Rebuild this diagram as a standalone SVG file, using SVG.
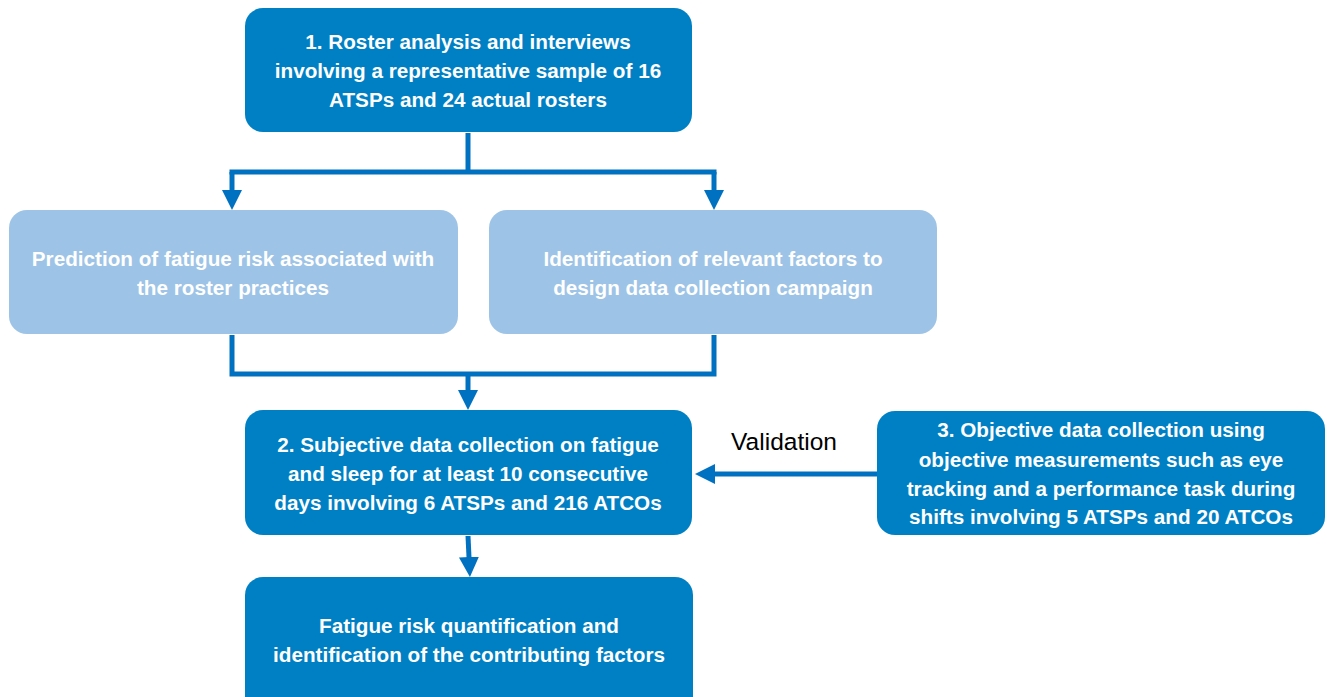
<svg xmlns="http://www.w3.org/2000/svg" width="1327" height="697" viewBox="0 0 1327 697">
<style>
.dark{fill:#0080C4}
.light{fill:#9DC3E6}
.t{font-family:"Liberation Sans",Arial,sans-serif;font-weight:bold;font-size:20.7px;fill:#FFFFFF;text-anchor:middle}
.lbl{font-family:"Liberation Sans",Arial,sans-serif;font-size:24.5px;fill:#000000;text-anchor:middle}
.c{fill:none;stroke:#0070C0;stroke-width:5}
</style>
<defs>
<marker id="ah" markerWidth="4" markerHeight="4" refX="2.2" refY="2" orient="auto" markerUnits="strokeWidth">
<path d="M0,0 L4,2 L0,4 Z" fill="#0070C0"/>
</marker>
</defs>
<rect width="1327" height="697" fill="#FFFFFF"/>
<g id="connectors">
<polyline class="c" points="468,133 468,172"/>
<polyline class="c" points="232,172 714,172" stroke-linecap="square"/>
<polyline class="c" points="232,172 232,201" marker-end="url(#ah)"/>
<polyline class="c" points="714,172 714,201" marker-end="url(#ah)"/>
<polyline class="c" points="232,335 232,374 714,374 714,335"/>
<polyline class="c" points="468,374 468,401" marker-end="url(#ah)"/>
<line class="c" x1="468" y1="536" x2="469.5" y2="568" marker-end="url(#ah)"/>
<line class="c" x1="877" y1="474" x2="704" y2="474" marker-end="url(#ah)"/>
<text class="lbl" x="784" y="450">Validation</text>
</g>
<g id="node1">
<rect class="dark" x="245" y="8" width="447" height="124" rx="18"/>
<text class="t" x="468" y="49">1. Roster analysis and interviews</text>
<text class="t" x="468" y="78">involving a representative sample of 16</text>
<text class="t" x="468" y="107">ATSPs and 24 actual rosters</text>
</g>
<g id="node_prediction">
<rect class="light" x="9" y="210" width="449" height="124" rx="18"/>
<text class="t" x="233" y="266">Prediction of fatigue risk associated with</text>
<text class="t" x="233" y="295">the roster practices</text>
</g>
<g id="node_identification">
<rect class="light" x="489" y="210" width="448" height="124" rx="18"/>
<text class="t" x="713" y="266">Identification of relevant factors to</text>
<text class="t" x="713" y="295">design data collection campaign</text>
</g>
<g id="node2">
<rect class="dark" x="245" y="410" width="447" height="125" rx="18"/>
<text class="t" x="468" y="452">2. Subjective data collection on fatigue</text>
<text class="t" x="468" y="481">and sleep for at least 10 consecutive</text>
<text class="t" x="468" y="510">days involving 6 ATSPs and 216 ATCOs</text>
</g>
<g id="node3">
<rect class="dark" x="877" y="411" width="448" height="124" rx="18"/>
<text class="t" x="1101" y="437">3. Objective data collection using</text>
<text class="t" x="1101" y="467">objective measurements such as eye</text>
<text class="t" x="1101" y="496">tracking and a performance task during</text>
<text class="t" x="1101" y="524">shifts involving 5 ATSPs and 20 ATCOs</text>
</g>
<g id="node4">
<rect class="dark" x="245" y="577" width="448" height="140" rx="18"/>
<text class="t" x="469" y="633">Fatigue risk quantification and</text>
<text class="t" x="469" y="662">identification of the contributing factors</text>
</g>
</svg>
